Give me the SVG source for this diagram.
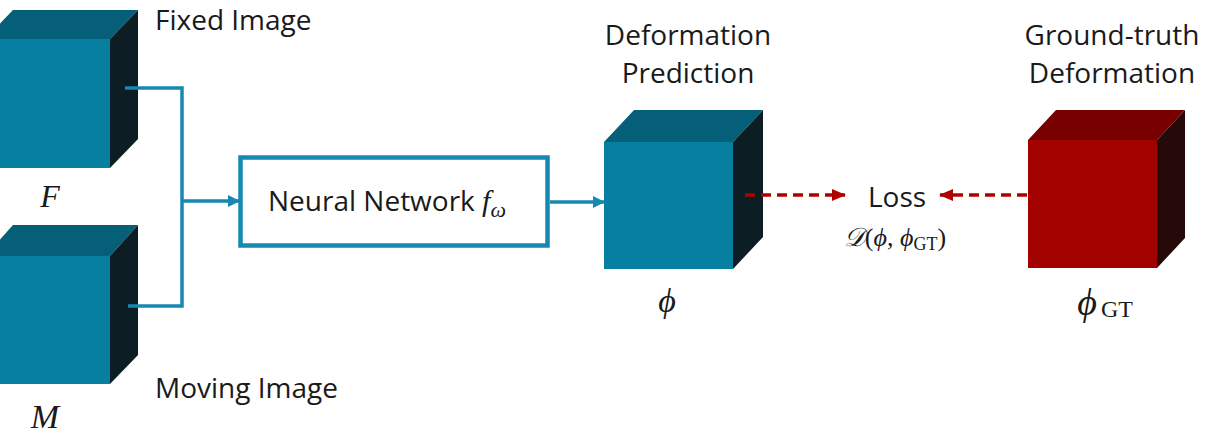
<svg xmlns="http://www.w3.org/2000/svg" width="1207" height="435" viewBox="0 0 1207 435">
<style>
.lbl{font-family:"Open Sans","Liberation Sans",sans-serif;font-size:28px;fill:#1a1a1a}
.math{font-family:"Liberation Serif","DejaVu Serif",serif;font-style:italic;fill:#1a1a1a}
.rm{font-family:"Liberation Serif","DejaVu Serif",serif;fill:#1a1a1a}
.bfront{fill:#067fa1}.btop{fill:#055f78}.bside{fill:#0c1d24}
.rfront{fill:#a30000}.rtop{fill:#780000}.rside{fill:#260a0a}
.bline{fill:none;stroke:#1689b0;stroke-width:3.5}
.rline{fill:none;stroke:#b00000;stroke-width:3.5;stroke-dasharray:10 6}
</style>
<defs>
<marker id="ab" markerWidth="12" markerHeight="12" refX="11" refY="6" orient="auto" markerUnits="userSpaceOnUse"><path d="M0,0 L12,6 L0,12 Z" fill="#1689b0"/></marker>
<marker id="ar" markerWidth="14" markerHeight="12" refX="13" refY="6" orient="auto" markerUnits="userSpaceOnUse"><path d="M0,0 L14,6 L0,12 Z" fill="#b00000"/></marker>
</defs>
<rect width="1207" height="435" fill="#ffffff"/>
<g id="fixed">
<polygon class="btop" points="-15,39 13,10 138,10 110,39"/>
<polygon class="bside" points="110,39 138,10 138,139 110,168"/>
<rect class="bfront" x="-15" y="39" width="125" height="129"/>
<text class="lbl" x="155" y="30">Fixed Image</text>
<text class="math" x="50" y="207" font-size="32" text-anchor="middle">F</text>
</g>
<g id="moving">
<polygon class="btop" points="-15,256 13,225 138,225 110,256"/>
<polygon class="bside" points="110,256 138,225 138,355 110,384"/>
<rect class="bfront" x="-15" y="256" width="125" height="128"/>
<text class="lbl" x="155" y="398">Moving Image</text>
<text class="math" x="45" y="428" font-size="34" text-anchor="middle">M</text>
</g>
<g id="network">
<rect x="240.5" y="157.5" width="307" height="88" fill="#ffffff" stroke="#1689b0" stroke-width="4.5"/>
<text class="lbl" x="268" y="211">Neural Network <tspan class="math" font-size="30">f</tspan><tspan class="math" font-size="22" dy="6">ω</tspan></text>
</g>
<g id="prediction">
<polygon class="btop" points="604,142 634,110 763,110 733,142"/>
<polygon class="bside" points="733,142 763,110 763,237 733,269"/>
<rect class="bfront" x="604" y="142" width="129" height="127"/>
<text class="lbl" x="688" y="45" text-anchor="middle">Deformation</text>
<text class="lbl" x="688" y="83" text-anchor="middle">Prediction</text>
<text class="math" x="667" y="312" font-size="34" text-anchor="middle">ϕ</text>
</g>
<g id="loss">
<text class="lbl" x="897" y="207" font-size="27" text-anchor="middle">Loss</text>
<text class="rm" x="895" y="246" font-size="26" text-anchor="middle"><tspan class="math">𝒟</tspan>(<tspan class="math">ϕ</tspan>, <tspan class="math">ϕ</tspan><tspan font-size="18" dy="4">GT</tspan><tspan dy="-4">)</tspan></text>
</g>
<g id="groundtruth">
<polygon class="rtop" points="1028,140 1056,110 1185,110 1157,140"/>
<polygon class="rside" points="1157,140 1185,110 1185,238 1157,268"/>
<rect class="rfront" x="1028" y="140" width="129" height="128"/>
<text class="lbl" x="1112" y="45" text-anchor="middle">Ground-truth</text>
<text class="lbl" x="1112" y="83" text-anchor="middle">Deformation</text>
<text class="math" x="1087" y="315" font-size="38" text-anchor="middle">ϕ</text>
<text class="rm" x="1101" y="317" font-size="24">GT</text>
</g>
<g id="connectors">
<polyline class="bline" points="125,88 182,88 182,306 128,306"/>
<line class="bline" x1="182" y1="201" x2="239" y2="201" marker-end="url(#ab)"/>
<line class="bline" x1="550" y1="202" x2="604" y2="202" marker-end="url(#ab)"/>
<line class="rline" x1="745" y1="195" x2="845" y2="195" marker-end="url(#ar)"/>
<line class="rline" x1="1027" y1="195" x2="940" y2="195" marker-end="url(#ar)"/>
</g>
</svg>
